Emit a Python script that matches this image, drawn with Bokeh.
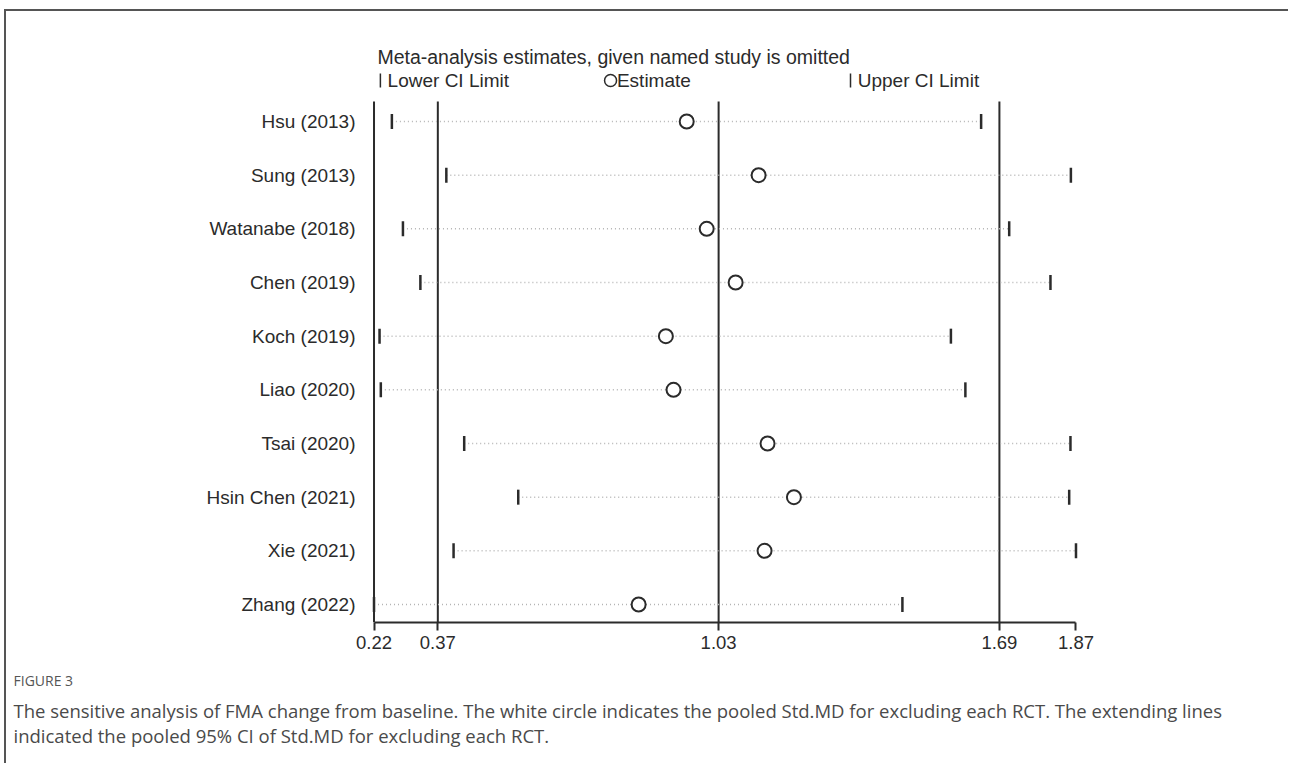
import numpy as np
from bokeh.plotting import figure
from bokeh.models import FixedTicker, Title, Range1d, ColumnDataSource, Label
from bokeh.embed import file_html
from bokeh.resources import INLINE

# ---- data ----
studies = ["Hsu (2013)", "Sung (2013)", "Watanabe (2018)", "Chen (2019)", "Koch (2019)",
           "Liao (2020)", "Tsai (2020)", "Hsin Chen (2021)", "Xie (2021)", "Zhang (2022)"]
estimate = [0.955, 1.124, 1.002, 1.070, 0.906, 0.924, 1.145, 1.207, 1.138, 0.842]
lower_ci = [0.262, 0.390, 0.288, 0.329, 0.233, 0.236, 0.432, 0.559, 0.407, 0.220]
upper_ci = [1.647, 1.858, 1.713, 1.810, 1.576, 1.610, 1.857, 1.854, 1.870, 1.462]
overall = [0.37, 1.03, 1.69]          # pooled lower CI, estimate, upper CI
x_ticks = [0.22, 0.37, 1.03, 1.69, 1.87]

n = len(studies)
ypos = [n - i for i in range(n)]       # first study on top

src = ColumnDataSource(dict(study=studies, y=ypos, est=estimate, lo=lower_ci, hi=upper_ci))

FONT = "Liberation Sans"
INK = "#2b2b2b"
Y0, Y1 = 0.6646, 11.6957
LINE_TOP = 10.3727

p = figure(frame_width=719, frame_height=592,
           x_range=Range1d(0.20, 1.89), y_range=Range1d(Y0, Y1),
           output_backend="svg", toolbar_location=None, tools="",
           min_border_left=359, min_border_top=19, min_border_right=204,
           min_border_bottom=141)
p.styles = {"border-top": "2px solid #555555", "border-left": "2px solid #555555",
            "margin-left": "4px", "margin-top": "9px"}
p.outline_line_color = None
p.xgrid.visible = False
p.ygrid.visible = False
p.background_fill_color = "white"
p.border_fill_color = "white"

# vertical reference lines (axis at min tick + pooled CI / estimate)
vx = [x_ticks[0]] + overall
p.segment(x0=vx, x1=vx, y0=[Y0] * len(vx), y1=[LINE_TOP] * len(vx),
          line_color=INK, line_width=2)

# dotted CI lines
p.segment(x0="lo", x1="hi", y0="y", y1="y", source=src,
          line_color="#b4b4b4", line_width=1.5, line_dash="1 3")
# CI limits
p.scatter(x="lo", y="y", source=src, marker="dash", angle=np.pi / 2, size=15,
          line_color=INK, line_width=2.5)
p.scatter(x="hi", y="y", source=src, marker="dash", angle=np.pi / 2, size=15,
          line_color=INK, line_width=2.5)
# estimates
p.scatter(x="est", y="y", source=src, marker="circle", size=14,
          fill_color="white", line_color=INK, line_width=2)

# header / legend
p.add_layout(Label(x=0.228, y=11.193, text="Meta-analysis estimates, given named study is omitted",
                   text_font=FONT, text_font_size="19.5px", text_color=INK, text_baseline="middle"))
p.scatter(x=[0.235, 1.340], y=[10.764, 10.764], marker="dash", angle=np.pi / 2, size=14,
          line_color=INK, line_width=1.5)
p.scatter(x=[0.776], y=[10.764], marker="circle", size=12, fill_color="white",
          line_color=INK, line_width=1.5)
for lx, lt in [(0.252, "Lower CI Limit"), (0.791, "Estimate"), (1.357, "Upper CI Limit")]:
    p.add_layout(Label(x=lx, y=10.764, text=lt, text_font=FONT, text_font_size="19px",
                       text_color=INK, text_baseline="middle"))

# x axis
xa = p.xaxis[0]
xa.ticker = FixedTicker(ticks=x_ticks)
xa.major_label_overrides = {t: f"{t:.2f}" for t in x_ticks}
xa.bounds = (x_ticks[0], x_ticks[-1])
xa.axis_line_width = 2
xa.axis_line_color = INK
xa.major_tick_line_width = 2
xa.major_tick_line_color = INK
xa.major_tick_out = 8
xa.major_tick_in = 0
xa.minor_tick_line_color = None
xa.major_label_text_font = FONT
xa.major_label_text_font_size = "18.5px"
xa.major_label_text_color = INK
xa.major_label_standoff = 5

# y axis (study names)
ya = p.yaxis[0]
ya.ticker = FixedTicker(ticks=ypos)
ya.major_label_overrides = {y: s for y, s in zip(ypos, studies)}
ya.axis_line_color = None
ya.major_tick_line_color = None
ya.minor_tick_line_color = None
ya.major_tick_out = 0
ya.major_tick_in = 0
ya.major_label_standoff = 10
ya.major_label_text_font = FONT
ya.major_label_text_font_size = "19px"
ya.major_label_text_color = INK

# caption
cap_font = "Open Sans"
p.add_layout(Title(text="FIGURE 3", align="left", offset=-352, text_font=cap_font,
                   text_font_size="14px", text_font_style="normal", text_color="#555555",
                   standoff=34), "below")
p.add_layout(Title(text="The sensitive analysis of FMA change from baseline. The white circle indicates the pooled Std.MD for excluding each RCT. The extending lines",
                   align="left", offset=-352, text_font=cap_font, text_font_size="18.5px",
                   text_font_style="normal", text_color="#4a4a4a", standoff=-22), "below")
p.add_layout(Title(text="indicated the pooled 95% CI of Std.MD for excluding each RCT.",
                   align="left", offset=-352, text_font=cap_font, text_font_size="18.5px",
                   text_font_style="normal", text_color="#4a4a4a", standoff=18), "below")

open("out.html", "w").write(file_html(p, INLINE))
